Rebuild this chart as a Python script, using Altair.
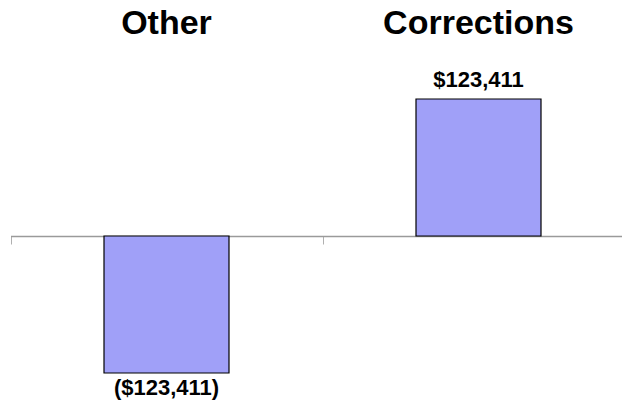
import altair as alt
import pandas as pd

categories = ["Other", "Corrections"]
values = [-123411, 123411]

df = pd.DataFrame({"category": categories, "value": values})

FONT = "Liberation Sans"
ydom = [-147733, 158542]
PLOT_W = 614
PLOT_H = 340
ZERO_FROM_TOP = 176
X_RANGE = [2.5, 626.5]

x_scale = alt.Scale(paddingInner=0, paddingOuter=0, range=X_RANGE)

x_top = alt.X("category:N", sort=categories, title=None, scale=x_scale,
              axis=alt.Axis(orient="top", domain=False, ticks=False, tickSize=0,
                            labelFont=FONT, labelFontSize=34, labelFontWeight="bold",
                            labelColor="#000000", labelPadding=27, labelAngle=0,
                            labelBaseline="alphabetic", labelLimit=0))
x_bot = alt.X("category:N", sort=categories, title=None, scale=x_scale,
              axis=alt.Axis(orient="bottom", domain=True, domainColor="#9a9a9a",
                            domainWidth=1.5, ticks=True, tickBand="extent",
                            tickColor="#b0b0b0", tickSize=8, labels=False,
                            offset=-(PLOT_H - ZERO_FROM_TOP)))
x_none = alt.X("category:N", sort=categories, title=None, axis=None)
y = alt.Y("value:Q", title=None, scale=alt.Scale(domain=ydom, nice=False, zero=True),
          axis=None)

base = alt.Chart(df)

bars = base.mark_bar(width=125, color="#a0a0f8", stroke="#000000", strokeWidth=1.2).encode(
    x=x_top, y=y)

axis_layer = base.mark_bar(opacity=0).encode(x=x_bot, y=y)

labels = base.transform_calculate(
    label="datum.value < 0 ? '(' + format(abs(datum.value), '$,') + ')' : format(datum.value, '$,')"
)

pos_text = labels.transform_filter("datum.value >= 0").mark_text(
    baseline="alphabetic", dy=-12, font=FONT, fontSize=22, fontWeight="bold", color="#000000"
).encode(x=x_none, y=y, text="label:N")

neg_text = labels.transform_filter("datum.value < 0").mark_text(
    baseline="alphabetic", dy=22, font=FONT, fontSize=22, fontWeight="bold", color="#000000"
).encode(x=x_none, y=y, text="label:N")

chart = alt.layer(bars, axis_layer, pos_text, neg_text).resolve_axis(
    x="independent"
).properties(
    width=PLOT_W, height=PLOT_H,
    padding={"left": 0, "right": 0, "top": 52, "bottom": 0},
    autosize=alt.AutoSizeParams(type="none")
).configure(background="#ffffff").configure_view(strokeOpacity=0, strokeWidth=0)

chart.save("out.html", embed_options={"renderer": "svg", "actions": False})
